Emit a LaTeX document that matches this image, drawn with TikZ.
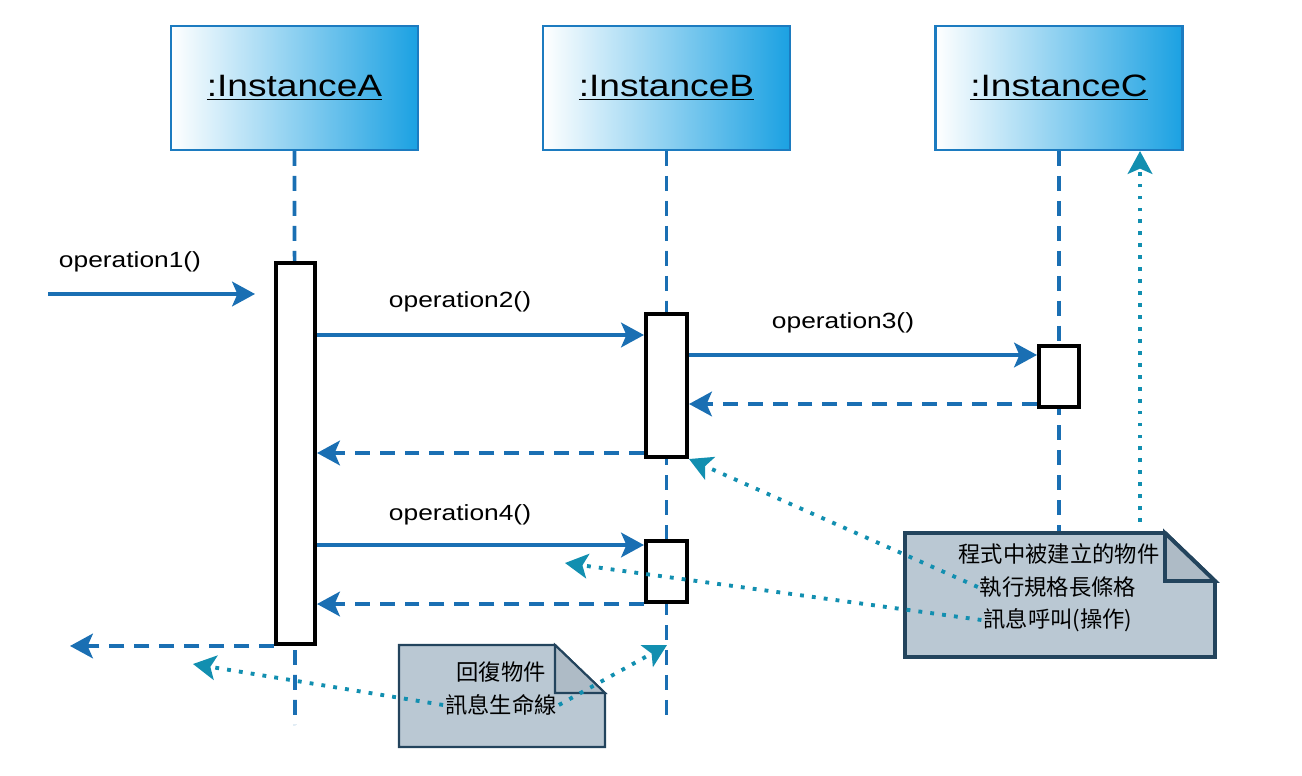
\documentclass[tikz,border=0pt]{standalone}
\usepackage{fontspec}
\setmainfont[FakeStretch=1.2]{Liberation Sans}
\newfontfamily\cjk{Noto Sans CJK TC}
\usetikzlibrary{arrows.meta}

\definecolor{lineblue}{HTML}{1A6FB3}
\definecolor{headblue}{HTML}{1BA1E2}
\definecolor{boxedge}{HTML}{1C7BC0}
\definecolor{hintteal}{HTML}{128FB0}
\definecolor{notefill}{HTML}{BAC8D3}
\definecolor{notefold}{HTML}{AEBBC6}
\definecolor{noteedge}{HTML}{23445D}

\begin{document}
\begin{tikzpicture}[x=0.02cm, y=-0.02cm,
    inst/.style={draw=boxedge, line width=1.2pt, left color=white, right color=headblue,
        minimum width=4.94cm, minimum height=2.48cm, font=\fontsize{17.6}{20}\selectfont},
    bar/.style={draw=black, line width=2.3pt, fill=white, inner sep=0pt},
    life/.style={draw=lineblue, line width=2.1pt, dash pattern=on 8.5pt off 5.7pt},
    call/.style={draw=lineblue, line width=2.1pt, -{Stealth[length=13pt, width=14pt, inset=3pt]}},
    reply/.style={call, dash pattern=on 8.5pt off 5.7pt},
    hint/.style={draw=hintteal, line width=2.2pt, dash pattern=on 2.2pt off 4.6pt,
        -{Stealth[length=13pt, width=14pt, inset=3pt]}},
    lbl/.style={font=\fontsize{12.5}{15}\selectfont},
    nt/.style={font=\cjk\fontsize{12.7}{15}\selectfont, inner sep=1pt}]
    \useasboundingbox (0,0) rectangle (1302,776);

    \node[inst] (instA) at (294.5,88) {\underline{:InstanceA}};
    \node[inst] (instB) at (666.5,88) {\underline{:InstanceB}};
    \node[inst] (instC) at (1059,88) {\underline{:InstanceC}};

    \coordinate (endA) at (295,725);
    \coordinate (endB) at (666.5,715);
    \coordinate (endC) at (1059,545);

    \draw[life] (instA.south) -- (endA); % lifelines
    \draw[life] (instB.south) -- (endB);
    \draw[life] (instC.south) -- (endC);

    \node[bar, minimum width=0.78cm, minimum height=7.62cm] (actA) at (295.5,453.5) {};
    \node[bar, minimum width=0.82cm, minimum height=2.86cm] (actB1) at (666.5,385.5) {};
    \node[bar, minimum width=0.82cm, minimum height=1.22cm] (actB2) at (666.5,571.5) {};
    \node[bar, minimum width=0.8cm, minimum height=1.22cm] (actC) at (1059,376.5) {};

    \coordinate (m1s) at (48,294);
    \coordinate (m1e) at (255,294);
    \coordinate (y2) at (0,335);
    \coordinate (y3) at (0,355);
    \coordinate (y4) at (0,545);
    \coordinate (r1) at (0,404);
    \coordinate (r2) at (0,453);
    \coordinate (out) at (70,645);

    \draw[call] (m1s) -- (m1e);
    \draw[call] (actA.east |- y2) -- (actB1.west |- y2);
    \draw[call] (actB1.east |- y3) -- (actC.west |- y3);
    \draw[call] (actA.east |- y4) -- (actB2.west |- y4);
    \draw[reply] (actC.west |- r1) -- (actB1.east |- r1);
    \draw[reply] (actB1.west |- r2) -- (actA.east |- r2);
    \draw[reply] (actB2.south west) -- (actA.east |- actB2.south);
    \draw[reply] (actA.south west) -- (actA.south west -| out);

    \node[lbl] (op1) at (130,262) {operation1()};
    \node[lbl] (op2) at (460,302) {operation2()};
    \node[lbl] (op3) at (843,323) {operation3()};
    \node[lbl] (op4) at (460,515) {operation4()};

    % big note
    \coordinate (N1) at (905,533);
    \coordinate (N2) at (1165,533);
    \coordinate (N3) at (1215,581);
    \coordinate (N4) at (1215,657);
    \coordinate (N5) at (905,657);
    \coordinate (N6) at (1165,581);
    \draw[noteedge, fill=notefill, line width=2.2pt, line join=miter] (N1) -- (N2) -- (N3) -- (N4) -- (N5) -- cycle;
    \draw[noteedge, fill=notefold, line width=2.2pt] (N2) -- (N6) -- (N3) -- cycle;

    % small note
    \coordinate (S1) at (399,645);
    \coordinate (S2) at (555,645);
    \coordinate (S3) at (605,693);
    \coordinate (S4) at (605,747);
    \coordinate (S5) at (399,747);
    \coordinate (S6) at (555,693);
    \draw[noteedge, fill=notefill, line width=1.2pt] (S1) -- (S2) -- (S3) -- (S4) -- (S5) -- cycle;
    \draw[noteedge, fill=notefold, line width=1.2pt] (S2) -- (S6) -- (S3) -- cycle;

    \node[nt] (t1) at (1059,554) {程式中被建立的物件};
    \node[nt] (t2) at (1058,587) {執行規格長條格};
    \node[nt] (t3) at (1058,620) {訊息呼叫(操作)};
    \node[nt] (s1) at (501,672) {回復物件};
    \node[nt] (s2) at (501,705) {訊息生命線};

    \coordinate (h2) at (565,563);
    \coordinate (cUp) at (1140,522);
    \coordinate (h4) at (667,645);
    \coordinate (h5) at (193,664);

    \draw[hint] (t2.west) -- (actB1.south east); % notes
    \draw[hint] (t3.west) -- (h2);
    \draw[hint] (cUp) -- (cUp |- instC.south);
    \draw[hint] (s2.east) -- (h4);
    \draw[hint] (s2.west) -- (h5);
\end{tikzpicture}
\end{document}
